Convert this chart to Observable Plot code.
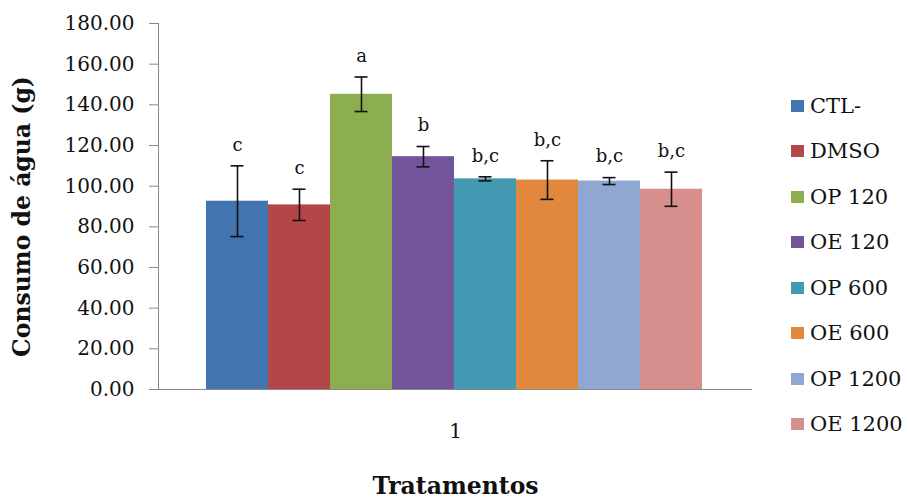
<!DOCTYPE html>
<html><head><meta charset="utf-8">
<script src="https://cdn.jsdelivr.net/npm/d3@7"></script>
<script src="https://cdn.jsdelivr.net/npm/@observablehq/plot@0.6"></script>
<style>
body{margin:0;background:#fff;}
#wrap{position:relative;width:908px;height:499px;}
#legend{position:absolute;left:791px;top:83px;font-family:"DejaVu Serif";font-size:21px;color:#111;}
.item{height:45.5px;display:flex;align-items:center;white-space:nowrap;}
.sw{width:13px;height:12px;margin-right:6px;flex:none;}
</style></head><body><div id="wrap"></div>
<script>
const treatments = ["CTL-","DMSO","OP 120","OE 120","OP 600","OE 600","OP 1200","OE 1200"];
const means = [92.6, 90.8, 145.2, 114.5, 103.6, 103.0, 102.5, 98.5];
const errors = [17.4, 7.7, 8.5, 5.0, 1.0, 9.5, 1.7, 8.4];
const letters = ["c","c","a","b","b,c","b,c","b,c","b,c"];
const colors = ["#4274B0","#B4464A","#8DAE4E","#71549A","#4499B2","#E2883E","#8EA7D3","#D68F8D"];
const yTicks = [0,20,40,60,80,100,120,140,160,180];
const groupLabel = ["1"];
const xTitle = "Tratamentos";
const yTitle = "Consumo de água (g)";

const data = treatments.map((t,i)=>({t, v:means[i], lo:means[i]-errors[i], hi:means[i]+errors[i], l:letters[i]}));

const chart = Plot.plot({
  width:908, height:499, marginLeft:158, marginRight:156, marginTop:23, marginBottom:110,
  style:{fontFamily:"DejaVu Serif", background:"white", color:"#111"},
  x:{type:"band", domain:treatments, range:[205,702], padding:0, axis:null},
  y:{domain:[0,180], axis:null},
  color:{domain:treatments, range:colors},
  marks:[
    Plot.barY(data,{x:"t", y:"v", fill:"t"}),
    Plot.ruleX(data,{x:"t", y1:"lo", y2:"hi", stroke:"#111", strokeWidth:1.6}),
    Plot.tickY(data,{x:"t", y:"lo", insetLeft:24.5, insetRight:24.5, stroke:"#111", strokeWidth:1.6}),
    Plot.tickY(data,{x:"t", y:"hi", insetLeft:24.5, insetRight:24.5, stroke:"#111", strokeWidth:1.6}),
    Plot.text(data,{x:"t", y:"hi", text:"l", dy:-21, fontSize:18, lineAnchor:"middle"}),
    Plot.axisY({ticks:yTicks, tickFormat:d=>d.toFixed(2), tickSize:9, tickPadding:15, fontSize:20, stroke:"#888", label:null}),
    Plot.frame({anchor:"left", stroke:"#888"}),
    Plot.ruleY([0],{stroke:"#888"}),
    Plot.text(groupLabel,{frameAnchor:"bottom", dy:42.5, lineAnchor:"middle", textAnchor:"middle", fontSize:20}),
    Plot.text([xTitle],{frameAnchor:"bottom", dy:97, lineAnchor:"middle", textAnchor:"middle", fontSize:23.5, fontWeight:"bold"}),
    Plot.text([yTitle],{frameAnchor:"left", dx:-136.5, dy:10, rotate:-90, lineAnchor:"middle", textAnchor:"middle", fontSize:23.5, fontWeight:"bold"})
  ]
});
const wrap = document.getElementById("wrap");
wrap.appendChild(chart);

const legend = document.createElement("div");
legend.id = "legend";
treatments.forEach((t,i)=>{
  const item = document.createElement("div");
  item.className = "item";
  const sw = document.createElement("span");
  sw.className = "sw";
  sw.style.background = colors[i];
  const lab = document.createElement("span");
  lab.textContent = t;
  item.appendChild(sw); item.appendChild(lab);
  legend.appendChild(item);
});
wrap.appendChild(legend);
</script>
</body></html>
